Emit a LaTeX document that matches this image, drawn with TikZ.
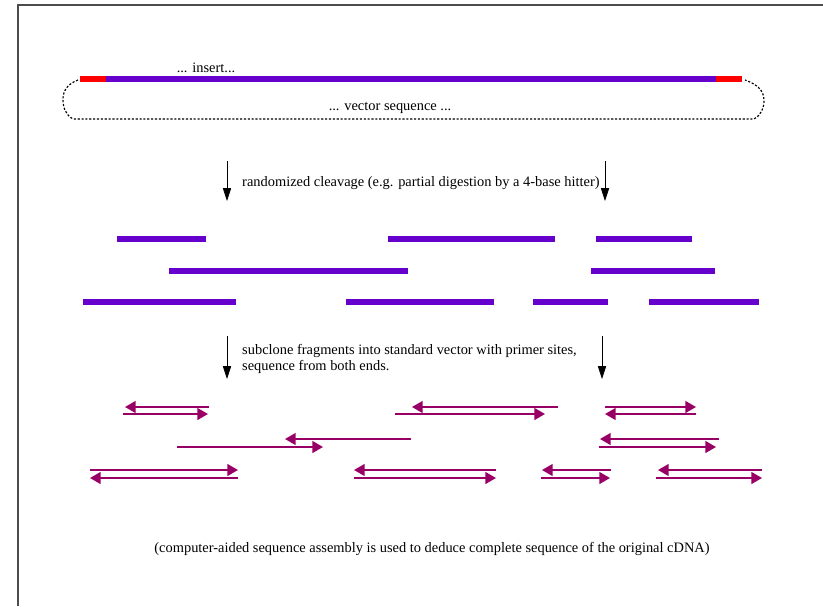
\documentclass[tikz,border=0pt]{standalone}
\usepackage{fontspec}
\setmainfont{Liberation Serif}
\usetikzlibrary{arrows.meta}
\definecolor{insertred}{RGB}{255,0,0}
\definecolor{fragpurple}{RGB}{102,0,204}
\definecolor{readmagenta}{RGB}{153,0,102}
\tikzset{
  frag/.style={fragpurple, line width=5.8pt},
  read/.style={readmagenta, line width=1.5pt, -{Triangle[length=9pt,width=10pt]}},
  steparrow/.style={semithick, -{Triangle[length=11pt,width=7pt]}},
  vecline/.style={line width=1pt, dash pattern=on 1.8pt off 1.5pt},
  lbl/.style={font=\fontsize{12.3}{14}\selectfont, inner sep=0pt},
}
\begin{document}
\begin{tikzpicture}[x=0.03cm,y=-0.03cm]
    \useasboundingbox (0,0) rectangle (823,606);
    % Frame
    \draw[black!70,line width=1.5pt] (18,606) -- (18,5) -- (823,5);

    % Insert in vector
    \coordinate (ins-l) at (80,79);
    \coordinate (ins-r) at (742,79);
    \draw[insertred,line width=5pt] (ins-l) -- (106,79);
    \draw[fragpurple,line width=5pt] (106,79) -- (716,79);
    \draw[insertred,line width=5pt] (716,79) -- (ins-r);
    \node[lbl] (insert-lbl) at (206,68) {... insert...};
    \draw[vecline] (78,80) to[out=200,in=90] (63,99) to[out=-90,in=150] (73,119)
        -- (754,119) to[out=30,in=-90] (764,100) to[out=90,in=-20] (745,80);
    \node[lbl] (vector-lbl) at (390,108) {... vector sequence ...};

    % Cleavage step
    \coordinate (cut-l-a) at (227,161);
    \coordinate (cut-l-b) at (227,201);
    \coordinate (cut-r-a) at (605,161);
    \coordinate (cut-r-b) at (605,201);
    \draw[steparrow] (cut-l-a) -- (cut-l-b);
    \draw[steparrow] (cut-r-a) -- (cut-r-b);
    \node[lbl,anchor=west] (cleave-lbl) at (242,183)
        {randomized cleavage (e.g. partial digestion by a 4-base hitter)};

    % Fragments
    \foreach \xa/\xb/\yy in {117/206/239,388/555/239,596/692/239,
                            169/408/271,591/715/271,
                            83/236/302,346/494/302,533/608/302,649/759/302}
    \draw[frag] (\xa,\yy) -- (\xb,\yy);

    % Subclone step
    \coordinate (sub-l-a) at (227,336);
    \coordinate (sub-l-b) at (227,379);
    \coordinate (sub-r-a) at (602,336);
    \coordinate (sub-r-b) at (602,379);
    \draw[steparrow] (sub-l-a) -- (sub-l-b);
    \draw[steparrow] (sub-r-a) -- (sub-r-b);
    \node[lbl,anchor=west,align=left] (sub-lbl) at (242,359)
        {subclone fragments into standard vector with primer sites,\\sequence from both ends.};

    % Reads from both ends
    \foreach \xa/\xb/\yy in {209/125/407,558/412/407,605/696/407,
                            123/208/414,395/545/414,696/605/414,
                            411/285/439,719/600/439,
                            177/323/447,599/716/447,
                            90/238/470,496/354/470,611/542/470,762/658/470,
                            238/90/478,354/496/478,541/610/478,656/762/478}
    \draw[read] (\xa,\yy) -- (\xb,\yy);

    \node[lbl] (assembly-lbl) at (432,549)
        {(computer-aided sequence assembly is used to deduce complete sequence of the original cDNA)};
\end{tikzpicture}
\end{document}
